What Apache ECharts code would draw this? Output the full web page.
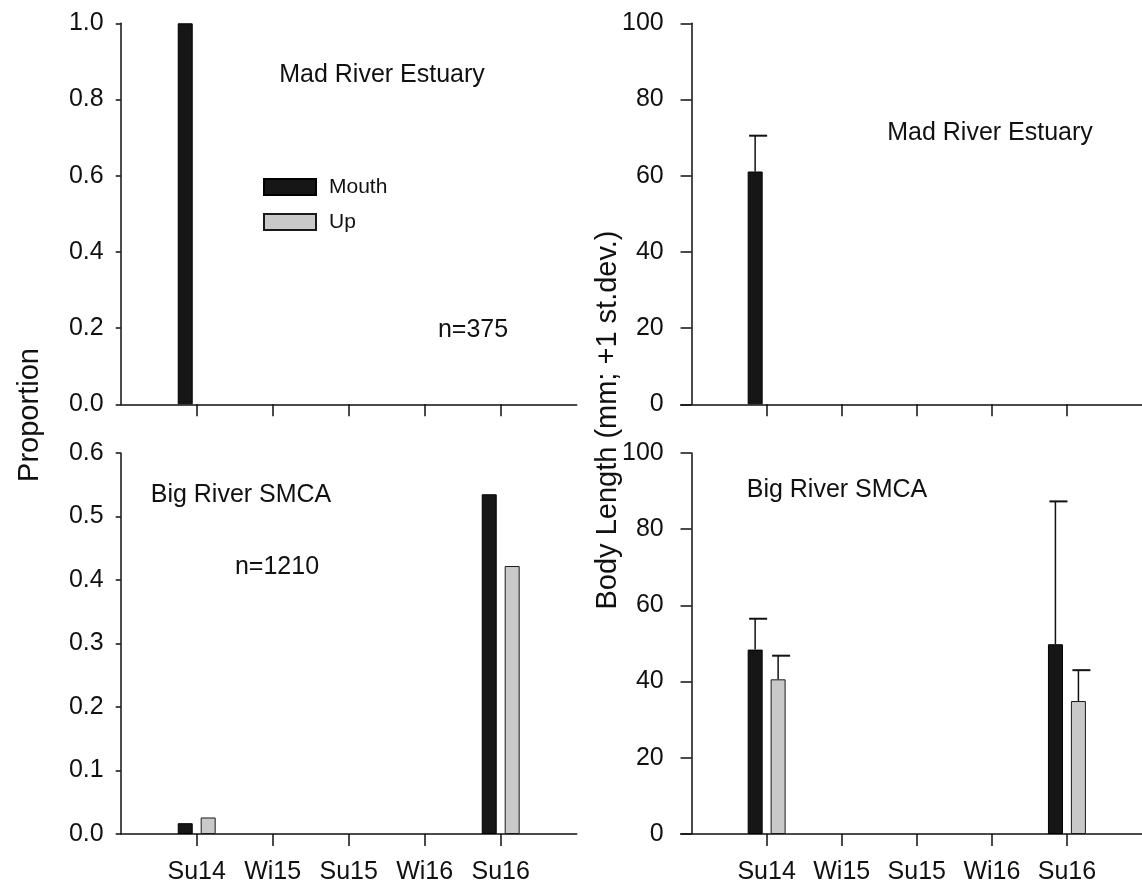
<!DOCTYPE html>
<html><head><meta charset="utf-8">
<script src="https://cdn.jsdelivr.net/npm/echarts@6/dist/echarts.min.js"></script>
<style>html,body{margin:0;padding:0;background:#fff}#c{width:1142px;height:893px}</style>
</head><body><div id="c"></div>
<script>
// ---- data ----
const categories = ['Su14', 'Wi15', 'Su15', 'Wi16', 'Su16'];
const madPropMouth = [1.0, 0, 0, 0, 0];
const madPropUp = [0, 0, 0, 0, 0];
const bigPropMouth = [0.017, 0, 0, 0, 0.535];
const bigPropUp = [0.026, 0, 0, 0, 0.422];
const madLenMouth = [61.1, null, null, null, null];
const madLenMouthSd = [9.4, null, null, null, null];
const madLenUp = [null, null, null, null, null];
const madLenUpSd = [null, null, null, null, null];
const bigLenMouth = [48.4, null, null, null, 49.8];
const bigLenMouthSd = [8.1, null, null, null, 37.5];
const bigLenUp = [40.6, null, null, null, 34.9];
const bigLenUpSd = [6.2, null, null, null, 8.1];
const catPositions = [1, 2, 3, 4, 5];

// ---- styling / layout ----
const FONT = 'Liberation Sans, Arial, sans-serif';
const INK = '#111';
const MOUTH_STYLE = {color: '#161616', borderColor: '#000', borderWidth: 1};
const UP_STYLE = {color: '#c9c9c9', borderColor: '#1a1a1a', borderWidth: 1};
const BAR_OFFSET = 11.5;

const grids = [
  {left: 120.7, top: 23.3, width: 456, height: 381},
  {left: 680.7, top: 23.3, width: 467, height: 381},
  {left: 120.7, top: 453, width: 456, height: 381},
  {left: 680.7, top: 453, width: 467, height: 381}
];
const xMins = [0, -0.1447, 0, -0.1447];
const yCfg = [
  {max: 1.0, interval: 0.2, dec: 1, tick: 5},
  {max: 100, interval: 20, dec: 0, tick: 11},
  {max: 0.6, interval: 0.1, dec: 1, tick: 5},
  {max: 100, interval: 20, dec: 0, tick: 11}
];

// zero-height bars drawn without outline so no stray strokes appear on the axis
const pairs = arr => arr.map((v, i) => v === 0
  ? {value: [catPositions[i], v], itemStyle: {borderWidth: 0}}
  : [catPositions[i], v]);

function barSeries(name, gi, vals, style) {
  return {
    type: 'bar', name: name, xAxisIndex: gi, yAxisIndex: gi,
    data: pairs(vals), barWidth: 15, barGap: '53%',
    itemStyle: style, silent: true
  };
}
function errSeries(gi, means, sds, offset) {
  const d = [];
  means.forEach((m, i) => { if (m != null && sds[i] != null) d.push([catPositions[i], m, m + sds[i]]); });
  return {
    type: 'custom', xAxisIndex: gi, yAxisIndex: gi, silent: true, z: 5,
    data: d, encode: {x: 0, y: [1, 2]},
    renderItem: function (params, api) {
      const x = api.value(0);
      const p0 = api.coord([x, api.value(1)]);
      const p1 = api.coord([x, api.value(2)]);
      const cx = p0[0] + offset;
      return {type: 'group', children: [
        {type: 'line', shape: {x1: cx, y1: p0[1], x2: cx, y2: p1[1]}, style: {stroke: INK, lineWidth: 1.5}},
        {type: 'line', shape: {x1: cx - 6, y1: p1[1], x2: cx + 12, y2: p1[1]}, style: {stroke: INK, lineWidth: 2}}
      ]};
    }
  };
}

const xAxis = grids.map((g, i) => ({
  type: 'value', gridIndex: i, min: xMins[i], max: 6,
  axisLine: {show: true, onZero: false, lineStyle: {color: INK, width: 1.5}},
  axisTick: {show: true, customValues: catPositions, length: 12, lineStyle: {color: INK, width: 1.5}},
  axisLabel: {show: i >= 2, customValues: catPositions, formatter: v => categories[Math.round(v) - 1] || '',
              fontSize: 25, margin: 26, color: INK, fontFamily: FONT},
  splitLine: {show: false}
}));
const yAxis = yCfg.map((c, i) => ({
  type: 'value', gridIndex: i, min: 0, max: c.max, interval: c.interval,
  axisLine: {show: true, onZero: true, lineStyle: {color: INK, width: 1.5}},
  axisTick: {show: true, length: c.tick, lineStyle: {color: INK, width: 1.5}},
  axisLabel: {formatter: v => v.toFixed(c.dec), fontSize: 25, margin: 17, color: INK, fontFamily: FONT},
  splitLine: {show: false}
}));

function txt(s, x, y, size, rot) {
  return {type: 'text', x: x, y: y, rotation: rot || 0, silent: true,
    style: {text: s, fontSize: size, fontFamily: FONT, fill: INK, align: 'center', verticalAlign: 'middle'}};
}

const option = {
  animation: false,
  backgroundColor: '#fff',
  grid: grids,
  xAxis: xAxis,
  yAxis: yAxis,
  legend: {
    data: ['Mouth', 'Up'], orient: 'vertical', left: 263, top: 176.5, padding: 0,
    itemWidth: 52, itemHeight: 16, itemGap: 14, icon: 'rect', selectedMode: false,
    textStyle: {fontSize: 21, fontFamily: FONT, color: INK, padding: [0, 0, 0, 8]}
  },
  series: [
    barSeries('Mouth', 0, madPropMouth, MOUTH_STYLE),
    barSeries('Up', 0, madPropUp, UP_STYLE),
    barSeries('Mouth', 1, madLenMouth, MOUTH_STYLE),
    barSeries('Up', 1, madLenUp, UP_STYLE),
    barSeries('Mouth', 2, bigPropMouth, MOUTH_STYLE),
    barSeries('Up', 2, bigPropUp, UP_STYLE),
    barSeries('Mouth', 3, bigLenMouth, MOUTH_STYLE),
    barSeries('Up', 3, bigLenUp, UP_STYLE),
    errSeries(1, madLenMouth, madLenMouthSd, -BAR_OFFSET),
    errSeries(1, madLenUp, madLenUpSd, BAR_OFFSET),
    errSeries(3, bigLenMouth, bigLenMouthSd, -BAR_OFFSET),
    errSeries(3, bigLenUp, bigLenUpSd, BAR_OFFSET)
  ],
  graphic: [
    txt('Mad River Estuary', 382, 75, 25),
    txt('n=375', 473, 330, 25),
    txt('Mad River Estuary', 990, 133, 25),
    txt('Big River SMCA', 241, 495, 25),
    txt('n=1210', 277, 567, 25),
    txt('Big River SMCA', 837, 490, 25),
    txt('Proportion', 30, 415, 29, Math.PI / 2),
    txt('Body Length (mm; +1 st.dev.)', 608, 420, 29, Math.PI / 2)
  ]
};
const chart = echarts.init(document.getElementById('c'), null, {renderer: 'canvas'});
chart.setOption(option);
</script></body></html>
